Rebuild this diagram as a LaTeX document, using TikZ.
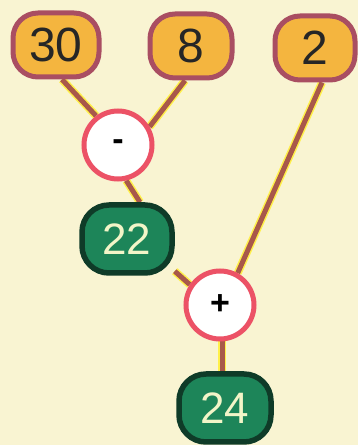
\documentclass[tikz,border=0pt]{standalone}
\usepackage{fontspec}
\setmainfont{Liberation Sans}
\usepackage{tikz}
\usetikzlibrary{backgrounds}
\definecolor{paper}{HTML}{F9F4D2}
\definecolor{numfill}{HTML}{F4B53F}
\definecolor{numedge}{HTML}{A94E62}
\definecolor{resfill}{HTML}{1D8559}
\definecolor{resedge}{HTML}{0F3B28}
\definecolor{restext}{HTML}{F2F5C8}
\definecolor{opedge}{HTML}{EC5266}
\definecolor{wire}{HTML}{A8584A}
\definecolor{glow}{HTML}{FFF04A}

\begin{document}
\begin{tikzpicture}[
  x=1pt,y=1pt,
  numbox/.style={draw=numedge, fill=numfill, line width=5pt, rounded corners=25pt,
    minimum width=#1, minimum height=64pt, inner sep=0pt,
    font=\fontsize{48}{48}\selectfont, text=black!85},
  numbox/.default=84pt,
  resbox/.style={draw=resedge, fill=resfill, line width=5.5pt, rounded corners=27pt,
    minimum width=90pt, minimum height=68pt, inner sep=0pt,
    font=\fontsize{44}{44}\selectfont, text=restext},
  opcircle/.style={circle, draw=opedge, fill=white, line width=5pt,
    minimum size=68pt, inner sep=0pt, font=\fontsize{34}{34}\selectfont\bfseries},
  halo/.style={draw=glow, line width=8pt},
  wireline/.style={draw=wire, line width=5pt}
]
\path[use as bounding box] (0,0) rectangle (358,445);

% Numbers to combine
\node[numbox=86pt] (n30) at (56,400) {30};
\node[numbox=82pt] (n8) at (191,399) {8};
\node[numbox=80pt] (n2) at (315,397) {2};

% Operations
\node[opcircle] (minus) at (118,300) {-};
\node[opcircle] (plus) at (220,140) {+};

% Results
\node[resbox] (n22) at (127,206) {22};
\node[resbox, minimum width=92pt] (n24) at (225,37) {24};

% Paper and connectors, kept behind the boxes
\begin{pgfonlayer}{background}
  \fill[paper] (0,0) rectangle (358,445);
  \foreach \s in {halo,wireline} {
    \draw[\s] ([xshift=6pt]n30.south) -- (minus.127);
    \draw[\s] ([xshift=-6pt]n8.south) -- (minus.30);
    \draw[\s] ([xshift=7pt]n2.south) -- (plus.61);
    \draw[\s] (minus.-77) -- ([xshift=13pt]n22.north);
    \draw[\s] (n22.-34) -- (plus.146);
    \draw[\s] ([xshift=2pt]plus.south) -- ([xshift=-3pt]n24.north);
  }
\end{pgfonlayer}

\end{tikzpicture}
\end{document}
